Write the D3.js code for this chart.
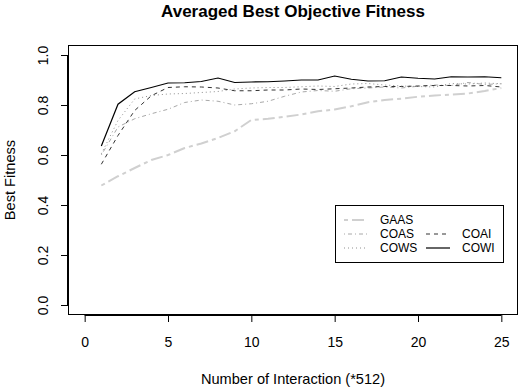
<!DOCTYPE html>
<html><head><meta charset="utf-8">
<script src="https://cdn.jsdelivr.net/npm/d3@7"></script>
<style>
body{margin:0;background:#fff;}
text{font-family:"Liberation Sans",Arial,Helvetica,sans-serif;fill:#000;}
</style></head>
<body><svg id="c" width="520" height="388"></svg>
<script>
const iterations = d3.range(1, 26);
const seriesNames = ["GAAS","COAS","COWS","COAI","COWI"];
const GAAS = [0.478,0.515,0.548,0.580,0.600,0.628,0.646,0.668,0.695,0.740,0.745,0.753,0.762,0.775,0.782,0.795,0.811,0.820,0.825,0.833,0.838,0.842,0.846,0.856,0.868];
const COAS = [0.600,0.712,0.745,0.765,0.783,0.810,0.820,0.815,0.800,0.805,0.815,0.835,0.852,0.858,0.855,0.865,0.868,0.872,0.868,0.875,0.880,0.878,0.890,0.882,0.885];
const COWS = [0.605,0.738,0.824,0.838,0.844,0.846,0.850,0.854,0.864,0.868,0.870,0.870,0.873,0.876,0.874,0.884,0.886,0.880,0.876,0.874,0.872,0.886,0.884,0.888,0.885];
const COAI = [0.563,0.678,0.778,0.837,0.870,0.873,0.872,0.868,0.857,0.857,0.860,0.860,0.864,0.862,0.865,0.868,0.872,0.874,0.874,0.876,0.878,0.878,0.876,0.878,0.872];
const COWI = [0.636,0.803,0.853,0.870,0.888,0.889,0.894,0.908,0.890,0.892,0.893,0.896,0.900,0.900,0.916,0.903,0.896,0.897,0.912,0.907,0.904,0.913,0.912,0.913,0.909];
const xTicks = [0,5,10,15,20,25];
const yTicks = [0,0.2,0.4,0.6,0.8,1.0];

const values = {GAAS, COAS, COWS, COAI, COWI};
const styles = {
  GAAS:{color:"#d0d0d0", dash:"4,4,12,4", width:2},
  COAS:{color:"#a8a8a8", dash:"1,3,4,3", width:1},
  COWS:{color:"#909090", dash:"1,3", width:1},
  COAI:{color:"#333333", dash:"4,4", width:1},
  COWI:{color:"#000000", dash:null, width:1.2}
};

const svg = d3.select("#c");
const L=68, R=518, T=45, B=315;
const x = d3.scaleLinear().domain([-1,26]).range([L,R]);
const y = d3.scaleLinear().domain([-0.04,1.04]).range([B,T]);

// title
svg.append("text").attr("x",(L+R)/2).attr("y",17).attr("text-anchor","middle")
  .style("font-weight","bold").style("font-size","17px").text("Averaged Best Objective Fitness");

// x axis
const xa = svg.append("g").attr("transform",`translate(0,${B})`)
  .call(d3.axisBottom(x).tickValues(xTicks).tickSize(7).tickPadding(15).tickFormat(d3.format("d")));
xa.select(".domain").attr("d",`M${x(0)},0.5H${x(25)}`).attr("stroke","#000");
xa.selectAll("text").style("font-size","14px").attr("font-family",null);
xa.selectAll("line").attr("stroke","#000");

// y axis
const ya = svg.append("g").attr("transform",`translate(${L},0)`)
  .call(d3.axisLeft(y).tickValues(yTicks).tickSize(7).tickFormat(d3.format(".1f")));
ya.select(".domain").attr("d",`M-0.5,${y(0)}V${y(1)}`).attr("stroke","#000");
ya.selectAll("line").attr("stroke","#000");
ya.selectAll("text").style("font-size","14px").attr("font-family",null)
  .attr("x",null).attr("dy",null)
  .attr("transform","translate(-25,0) rotate(-90)")
  .attr("text-anchor","middle").attr("dominant-baseline","central");

// box
svg.append("rect").attr("x",L+0.5).attr("y",T+0.5).attr("width",R-L-1).attr("height",B-T-1)
  .attr("fill","none").attr("stroke","#000");

// axis titles
svg.append("text").attr("x",(L+R)/2).attr("y",384).attr("text-anchor","middle")
  .style("font-size","14.6px").text("Number of Interaction (*512)");
svg.append("text").attr("transform",`translate(15,${(T+B)/2}) rotate(-90)`).attr("text-anchor","middle")
  .style("font-size","14.6px").text("Best Fitness");

// lines
const line = d3.line().x((d,i)=>x(iterations[i])).y(d=>y(d));
seriesNames.forEach(n=>{
  const s = styles[n];
  svg.append("path").datum(values[n]).attr("d",line).attr("fill","none")
    .attr("stroke",s.color).attr("stroke-width",s.width)
    .attr("stroke-dasharray",s.dash);
});

// legend
const lg = svg.append("g");
lg.append("rect").attr("x",335.5).attr("y",205.5).attr("width",168).attr("height",57)
  .attr("fill","#fff").attr("stroke","#000");
const legendPos = {GAAS:[0,0],COAS:[0,1],COWS:[0,2],COAI:[1,1],COWI:[1,2]};
seriesNames.forEach(n=>{
  const [c,r] = legendPos[n];
  const s = styles[n];
  const lx = 344 + c*82, ly = 220 + r*14;
  lg.append("line").attr("x1",lx).attr("x2",lx+24).attr("y1",ly).attr("y2",ly)
    .attr("stroke",s.color).attr("stroke-width",s.width).attr("stroke-dasharray",s.dash);
  lg.append("text").attr("x",lx+36).attr("y",ly).attr("dominant-baseline","central")
    .style("font-size","12px").text(n);
});
</script></body></html>
